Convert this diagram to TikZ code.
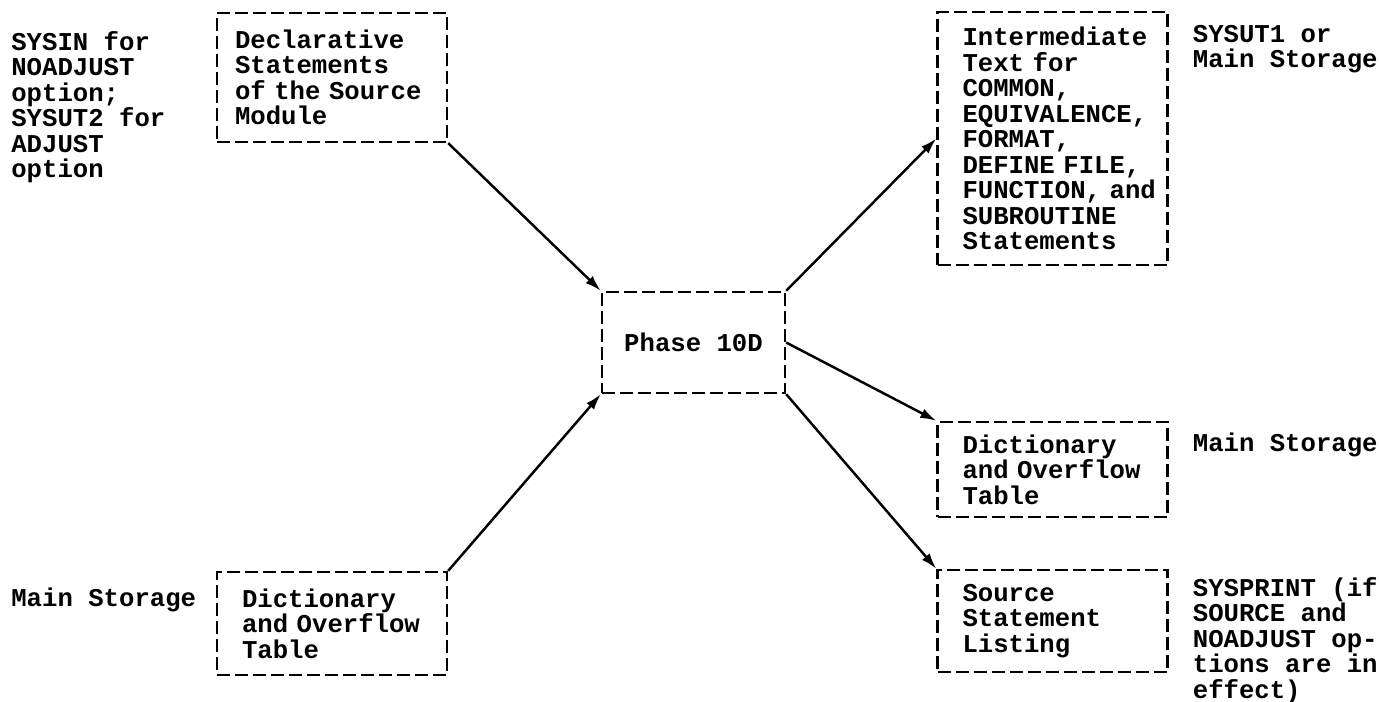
\documentclass[tikz,border=0pt]{standalone}
\usepackage{fontspec}
\setmonofont{Liberation Mono}[WordSpace={1,0,0}]
\usetikzlibrary{positioning, calc, arrows.meta}
\hyphenpenalty=10000

\begin{document}
\begin{tikzpicture}[
        font=\ttfamily\bfseries\fontsize{14.6pt}{14.5pt}\selectfont,
        box/.style={draw, line width=1.3pt, dash pattern=on 0.26cm off 0.1cm,
            minimum width=4.6cm, align=left, inner xsep=0.5cm, text width=3.6cm},
        note/.style={anchor=north west, align=left, inner sep=0pt},
        flow/.style={line width=1.4pt, -{Latex[length=3.2mm, width=2mm]}}
    ]
        \useasboundingbox (0, 0) rectangle (27.58, 14.04);
        % inputs
        \path (6.64, 12.49) node[box, minimum height=2.58cm, inner xsep=0.36cm, text width=3.88cm](Declarative){Declarative \\ Statements \\ \mbox{of the Source} \\ Module};
        \path (6.64, 1.57) node[box, minimum height=2.06cm](DictIn){Dictionary \\ \mbox{and Overflow} \\ Table};
        \path (13.87, 7.19) node[box, minimum width=3.66cm, minimum height=2.02cm, text width=, align=center, inner xsep=0pt](Phase){Phase 10D};
        % outputs
        \path (21.05, 11.27) node[box, minimum height=5.06cm](Intermediate){Intermediate \\ Text for \\ COMMON, \\ EQUIVALENCE, \\ FORMAT, \\ \mbox{DEFINE FILE,} \\ \mbox{FUNCTION, and} \\ SUBROUTINE \\ Statements};
        \path (21.05, 4.65) node[box, minimum height=1.9cm](DictOut){Dictionary \\ \mbox{and Overflow} \\ Table};
        \path (21.05, 1.62) node[box, minimum height=2.04cm](Listing){Source \\ Statement \\ Listing};
        % devices
        \path (0.22, 13.42) node[note](SysinNote){SYSIN for \\ NOADJUST \\ option; \\ SYSUT2 for \\ ADJUST \\ option};
        \path (0.22, 2.28) node[note](MainIn){Main Storage};
        \path (23.85, 13.54) node[note](SysutNote){SYSUT1 or \\ Main Storage};
        \path (23.85, 5.38) node[note](MainOut){Main Storage};
        \path (23.85, 2.5) node[note](SysprintNote){SYSPRINT (if \\ SOURCE and \\ NOADJUST op- \\ tions are in \\ effect)};
        \draw[flow] (Declarative.south east) -- (Phase.north west);
        \draw[flow] (DictIn.north east) -- (Phase.south west);
        \draw[flow] (Phase.north east) -- (Intermediate.west);
        \draw[flow] (Phase.east) -- (DictOut.north west);
        \draw[flow] (Phase.south east) -- (Listing.north west);
    \end{tikzpicture}
\end{document}
